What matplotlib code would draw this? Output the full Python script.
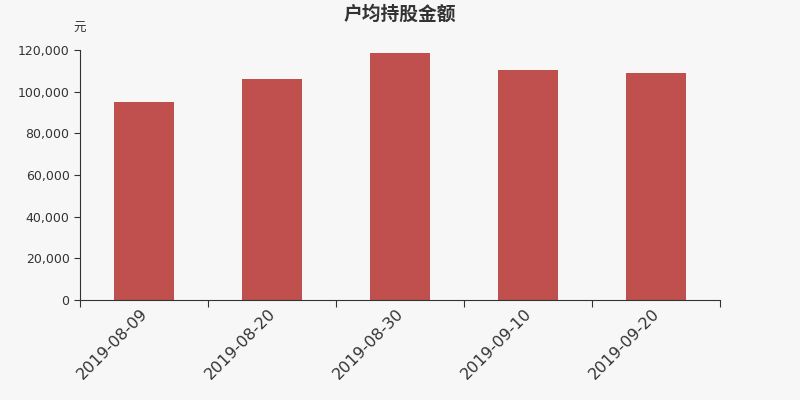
import matplotlib
matplotlib.use("Agg")
import matplotlib.pyplot as plt
from matplotlib.ticker import FuncFormatter, FixedLocator
from matplotlib.transforms import ScaledTranslation
import numpy as np

plt.rcParams['font.family'] = ['Noto Sans CJK SC', 'DejaVu Sans']

categories = ["2019-08-09", "2019-08-20", "2019-08-30", "2019-09-10", "2019-09-20"]
values = [95200, 105900, 118400, 110200, 109000]
yticks = [0, 20000, 40000, 60000, 80000, 100000, 120000]

bg = "#f7f7f7"
fg = "#333333"
fig = plt.figure(figsize=(8, 4), dpi=100, facecolor=bg)
ax = fig.add_axes([0.1, 0.25, 0.8, 0.625], facecolor=bg)

x = np.arange(len(categories))
ax.bar(x, values, width=0.47, color="#c0504d")
ax.set_xlim(-0.5, len(categories) - 0.5)
ax.set_ylim(0, 120000)

ax.xaxis.set_major_locator(FixedLocator(np.arange(len(categories) + 1) - 0.5))
ax.xaxis.set_major_formatter(FuncFormatter(lambda v, p: ""))
ax.xaxis.set_minor_locator(FixedLocator(x))
ax.set_xticklabels(categories, minor=True, rotation=45, ha="right",
                   rotation_mode="anchor", fontsize=11.5, color=fg,
                   family="DejaVu Sans")
ax.tick_params(axis="x", which="minor", length=0, pad=4)
ax.tick_params(axis="x", which="major", length=5, color=fg)
off = ScaledTranslation(-4 / 100, 0, fig.dpi_scale_trans)
for lab in ax.get_xticklabels(minor=True):
    lab.set_transform(lab.get_transform() + off)

ax.set_yticks(yticks)
ax.yaxis.set_major_formatter(FuncFormatter(lambda v, p: f"{int(v):,}"))
ax.tick_params(axis="y", length=4, color=fg, labelsize=9, labelcolor=fg)
for lab in ax.get_yticklabels():
    lab.set_family("DejaVu Sans")

for s in ["top", "right"]:
    ax.spines[s].set_visible(False)
for s in ["left", "bottom"]:
    ax.spines[s].set_color(fg)

fig.text(0.5, 0.965, "户均持股金额", ha="center", va="center", fontsize=13.5,
         fontweight="bold", color=fg)
fig.text(0.1, 0.928, "元", ha="center", va="center", fontsize=9, color=fg)

fig.savefig("out.png", dpi=100, facecolor=bg)
